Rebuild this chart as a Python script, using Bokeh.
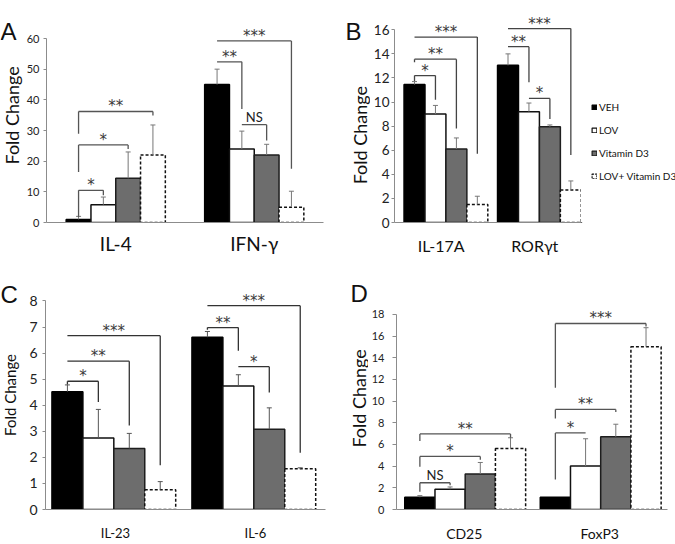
import math
from bokeh.plotting import figure
from bokeh.models import (FactorRange, Range1d, FixedTicker, Legend,
                          LegendItem, ColumnDataSource)
from bokeh.transform import dodge
from bokeh.layouts import row, column
from bokeh.embed import file_html
from bokeh.resources import INLINE
from bokeh.core.properties import value

SERIES = ["VEH", "LOV", "Vitamin D3", "LOV+ Vitamin D3"]

# ---------------- Panel A ----------------
A_CATS = ["IL-4", "IFN-γ"]
A_VEH = [1.0, 45.0]
A_LOV = [5.8, 24.0]
A_VITD = [14.4, 22.0]
A_COMBO = [22.0, 5.0]
A_VEH_ERR = [1.0, 5.0]
A_LOV_ERR = [2.5, 5.8]
A_VITD_ERR = [8.6, 3.5]
A_COMBO_ERR = [9.8, 5.2]
A_TICKS = [0, 10, 20, 30, 40, 50, 60]
# (group, bar_from, bar_to, y_top, y_left_end, y_right_end, label)
A_BRACKETS = [
    (0, 0, 1, 10.5, 1.8, 8.9, "*"),
    (0, 0, 2, 25.3, 16.5, 24.0, "*"),
    (0, 0, 3, 36.2, 28.9, 34.9, "**"),
    (1, 0, 1, 52.4, 52.4, 37.0, "**"),
    (1, 1, 2, 31.9, 31.9, 26.7, "NS"),
    (1, 0, 3, 59.2, 59.2, 17.5, "***"),
]

# ---------------- Panel B ----------------
B_CATS = ["IL-17A", "RORγt"]
B_VEH = [11.45, 13.05]
B_LOV = [9.0, 9.2]
B_VITD = [6.1, 7.95]
B_COMBO = [1.5, 2.7]
B_VEH_ERR = [0.25, 0.95]
B_LOV_ERR = [0.72, 0.72]
B_VITD_ERR = [0.92, 0.15]
B_COMBO_ERR = [0.68, 0.75]
B_TICKS = [0, 2, 4, 6, 8, 10, 12, 14, 16]
B_BRACKETS = [
    (0, 0, 1, 12.2, 11.75, 10.2, "*"),
    (0, 0, 2, 13.56, 13.3, 7.8, "**"),
    (0, 0, 3, 15.4, 15.4, 5.7, "***"),
    (1, 0, 1, 14.6, 14.6, 11.65, "**"),
    (1, 1, 2, 10.3, 10.3, 8.6, "*"),
    (1, 0, 3, 16.1, 16.1, 5.6, "***"),
]

# ---------------- Panel C ----------------
C_CATS = ["IL-23", "IL-6"]
C_VEH = [4.52, 6.61]
C_LOV = [2.74, 4.74]
C_VITD = [2.34, 3.08]
C_COMBO = [0.76, 1.56]
C_VEH_ERR = [0.26, 0.22]
C_LOV_ERR = [1.1, 0.43]
C_VITD_ERR = [0.58, 0.82]
C_COMBO_ERR = [0.31, 0.04]
C_TICKS = [0, 1, 2, 3, 4, 5, 6, 7, 8]
C_BRACKETS = [
    (0, 0, 1, 4.92, 4.8, 4.12, "*"),
    (0, 0, 2, 5.69, 5.69, 3.22, "**"),
    (0, 0, 3, 6.67, 6.67, 1.7, "***"),
    (1, 0, 1, 6.98, 6.9, 6.09, "**"),
    (1, 1, 2, 5.48, 5.48, 4.49, "*"),
    (1, 0, 3, 7.82, 7.82, 2.18, "***"),
]

# ---------------- Panel D ----------------
D_CATS = ["CD25", "FoxP3"]
D_VEH = [1.13, 1.13]
D_LOV = [1.87, 4.01]
D_VITD = [3.27, 6.71]
D_COMBO = [5.64, 15.03]
D_VEH_ERR = [0.15, 0.0]
D_LOV_ERR = [0.21, 2.52]
D_VITD_ERR = [1.07, 1.16]
D_COMBO_ERR = [0.98, 1.75]
D_TICKS = [0, 2, 4, 6, 8, 10, 12, 14, 16, 18]
D_BRACKETS = [
    (0, 0, 1, 2.47, 1.63, 2.23, "NS"),
    (0, 0, 2, 4.9, 3.95, 4.6, "*"),
    (0, 0, 3, 6.98, 6.33, 6.62, "**"),
    (1, 0, 1, 7.07, 2.76, 7.07, "*"),
    (1, 0, 2, 9.24, 8.4, 9.0, "**"),
    (1, 0, 3, 17.17, 11.23, 16.9, "***"),
]

FILLS = ["#000000", "#ffffff", "#6d6d6d", "#ffffff"]
LINES = ["#000000", "#111111", "#1e1e1e", "#111111"]
DASHES = ["solid", "solid", "solid", "3 2"]
FONT = "Lato"
STAR_FONT = "DejaVu Sans"


def base_fig(w, h, **kw):
    p = figure(width=w, height=h, output_backend="svg", toolbar_location=None, **kw)
    p.outline_line_color = None
    p.background_fill_color = "white"
    p.border_fill_color = "white"
    return p


def build_panel(cfg, cats, vals, errs, ticks, brackets):
    px0, py0, fw, fh = cfg["box"]
    fl, fr, ft, fb = cfg["frame"]
    top_val = ticks[-1]
    ppu = (fb - cfg["top_tick_px"]) / top_val
    ymax = (fb - ft) / ppu
    shift = cfg["shift"]
    bw = cfg["bar_w"]

    p = base_fig(fw, fh,
                 x_range=FactorRange(*cats, range_padding=0, factor_padding=0),
                 y_range=Range1d(0, ymax),
                 min_border_left=fl - px0, min_border_right=px0 + fw - fr,
                 min_border_top=ft - py0, min_border_bottom=py0 + fh - fb)
    p.xgrid.visible = False
    p.ygrid.visible = False

    ax_col = "#8c8c8c"
    p.yaxis.ticker = FixedTicker(ticks=ticks)
    p.yaxis.bounds = (0, top_val)
    p.yaxis.axis_line_color = ax_col
    p.yaxis.major_tick_line_color = ax_col
    p.yaxis.major_tick_out = cfg["ytick_out"]
    p.yaxis.major_tick_in = 0
    p.yaxis.minor_tick_line_color = None
    p.yaxis.major_label_standoff = cfg["ylab_standoff"]
    p.yaxis.major_label_text_font = FONT
    p.yaxis.major_label_text_font_size = cfg["ytick_font"]
    p.yaxis.major_label_text_color = "#222222"

    p.xaxis.axis_line_color = ax_col
    p.xaxis.major_tick_line_color = None
    p.xaxis.minor_tick_line_color = None
    p.xaxis.major_label_standoff = cfg["xlab_standoff"]
    p.xaxis.major_label_text_font = FONT
    p.xaxis.major_label_text_font_size = cfg["xcat_font"]
    p.xaxis.major_label_text_color = "#111111"

    for k in range(4):
        off = shift + (k - 1.5) * bw
        src = ColumnDataSource(dict(cat=cats, val=vals[k]))
        xd = dodge("cat", off, range=p.x_range)
        p.vbar(x=xd, top="val", width=bw, source=src,
               fill_color=FILLS[k], line_color=LINES[k], line_width=1.5,
               line_dash=DASHES[k])
        idx = [i for i, e in enumerate(errs[k]) if e > 0]
        esrc = ColumnDataSource(dict(cat=[cats[i] for i in idx],
                                     val=[vals[k][i] for i in idx],
                                     hi=[vals[k][i] + errs[k][i] for i in idx]))
        p.segment(x0=xd, y0="val", x1=xd, y1="hi", source=esrc,
                  line_color=cfg["err_col"], line_width=1)
        p.scatter(x=xd, y="hi", source=esrc, marker="dash", size=5,
                  line_color=cfg["err_col"], line_width=1)

    def bx(g, b):
        return g + 0.5 + shift + (b - 1.5) * bw
    hx0, hy0, hx1, hy1 = [], [], [], []
    stars = dict(x=[], y=[], t=[])
    words = dict(x=[], y=[], t=[])
    for g, b0, b1, yt, yl, yr, lab in brackets:
        xa, xb = bx(g, b0), bx(g, b1)
        hx0 += [xa, xa, xb]
        hx1 += [xb, xa, xb]
        hy0 += [yt, yt, yt]
        hy1 += [yt, yl, yr]
        d = stars if lab.startswith("*") else words
        d["x"].append((xa + xb) / 2)
        d["y"].append(yt)
        d["t"].append(lab)
    p.segment(x0=hx0, y0=hy0, x1=hx1, y1=hy1, line_color=cfg["br_col"],
              line_width=1.3)
    p.text(x=stars["x"], y=stars["y"], text=stars["t"], text_font=value(STAR_FONT),
           text_font_size=value(cfg["star_font"]), text_align="center",
           text_baseline="bottom", y_offset=4, text_color="#3a3a3a")
    if words["t"]:
        p.text(x=words["x"], y=words["y"], text=words["t"], text_font=value(FONT),
               text_font_size=value("13px"), text_align="center",
               text_baseline="bottom", y_offset=0, text_color="#222222")
    return p


def label_fig(x0, x1, y0, y1, letter, letter_pos, ylab_pos, ylab_font):
    # a frame-only figure whose data coordinates are page pixels
    p = base_fig(x1 - x0, y1 - y0, x_range=Range1d(x0, x1), y_range=Range1d(y1, y0),
                 min_border=0, x_axis_type=None, y_axis_type=None)
    p.grid.visible = False
    p.text(x=[letter_pos[0]], y=[letter_pos[1]], text=[letter],
           text_font=value("Liberation Sans"), text_font_size=value("24px"),
           text_align="left", text_baseline="alphabetic", text_color="#111111")
    p.text(x=[ylab_pos[0]], y=[ylab_pos[1]], text=["Fold Change"],
           text_font=value(FONT), text_font_size=value(ylab_font), angle=math.pi / 2,
           text_align="center", text_baseline="middle", text_color="#111111")
    return p


cfgA = dict(box=(23, 0, 312, 262), frame=(43, 323, 14, 222), top_tick_px=38,
            shift=0.0, bar_w=0.179, ytick_out=3, ylab_standoff=4,
            ytick_font="11px", xcat_font="19px", xlab_standoff=3,
            err_col="#777777", br_col="#555555", star_font="15px")
cfgB = dict(box=(370, 0, 211, 262), frame=(391, 581, 14, 222), top_tick_px=29.3,
            shift=0.05, bar_w=0.224, ytick_out=3, ylab_standoff=2,
            ytick_font="13.5px", xcat_font="16px", xlab_standoff=7,
            err_col="#777777", br_col="#444444", star_font="15px")
cfgC = dict(box=(23, 262, 312, 282), frame=(45, 325, 268, 518), top_tick_px=301.7,
            shift=-0.012, bar_w=0.221, ytick_out=3, ylab_standoff=5,
            ytick_font="14px", xcat_font="13px", xlab_standoff=9,
            err_col="#555555", br_col="#333333", star_font="15px")
cfgD = dict(box=(368, 262, 307, 282), frame=(393, 667, 268, 518), top_tick_px=315.7,
            shift=0.007, bar_w=0.223, ytick_out=4, ylab_standoff=8,
            ytick_font="11px", xcat_font="14px", xlab_standoff=9,
            err_col="#777777", br_col="#555555", star_font="15px")

pA = build_panel(cfgA, A_CATS, [A_VEH, A_LOV, A_VITD, A_COMBO],
                 [A_VEH_ERR, A_LOV_ERR, A_VITD_ERR, A_COMBO_ERR], A_TICKS, A_BRACKETS)
pB = build_panel(cfgB, B_CATS, [B_VEH, B_LOV, B_VITD, B_COMBO],
                 [B_VEH_ERR, B_LOV_ERR, B_VITD_ERR, B_COMBO_ERR], B_TICKS, B_BRACKETS)
pC = build_panel(cfgC, C_CATS, [C_VEH, C_LOV, C_VITD, C_COMBO],
                 [C_VEH_ERR, C_LOV_ERR, C_VITD_ERR, C_COMBO_ERR], C_TICKS, C_BRACKETS)
pD = build_panel(cfgD, D_CATS, [D_VEH, D_LOV, D_VITD, D_COMBO],
                 [D_VEH_ERR, D_LOV_ERR, D_VITD_ERR, D_COMBO_ERR], D_TICKS, D_BRACKETS)

labA = label_fig(0, 23, 0, 262, "A", (0, 22), (11.5, 127), "18px")
labB = label_fig(335, 370, 0, 262, "B", (345, 22), (359, 152), "18px")
labC = label_fig(0, 23, 262, 544, "C", (0, 292), (9, 410), "15px")
labD = label_fig(335, 368, 262, 544, "D", (350, 291), (358, 414), "18px")

# legend strip to the right of panel B
legF = base_fig(94, 262, x_range=Range1d(581, 675), y_range=Range1d(262, 0),
                min_border=0, x_axis_type=None, y_axis_type=None)
legF.grid.visible = False
dummies = []
for k in range(4):
    # one zero-height, off-screen sample per series so the legend can draw its swatch
    dummies.append(legF.vbar(x=[-5000], top=[500], bottom=[500], width=1,
                             fill_color=FILLS[k], line_color=LINES[k], line_width=1.2,
                             line_dash="2 1" if k == 3 else "solid"))
legend = Legend(items=[LegendItem(label=s, renderers=[r], index=0)
                       for s, r in zip(SERIES, dummies)],
                location=(10, 39), orientation="vertical",
                glyph_width=6, glyph_height=6, label_height=14, spacing=9,
                label_standoff=2, padding=0, margin=0,
                label_text_font=FONT, label_text_font_size="10px",
                label_text_color="#111111", border_line_color=None,
                background_fill_alpha=0)
legF.add_layout(legend, "center")

layout = column(row(labA, pA, labB, pB, legF), row(labC, pC, labD, pD))
open("out.html", "w").write(file_html(layout, INLINE))
